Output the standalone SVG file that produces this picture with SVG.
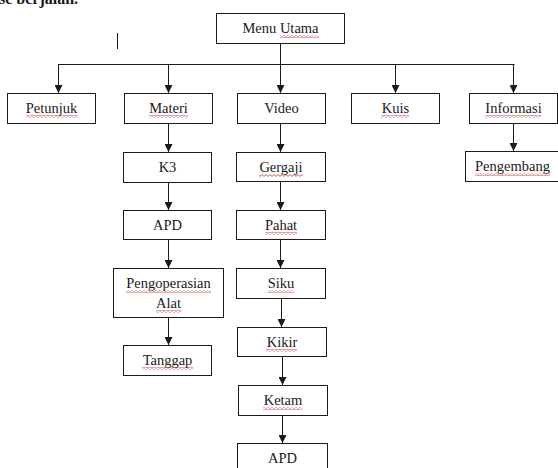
<svg xmlns="http://www.w3.org/2000/svg" width="558" height="468" viewBox="0 0 558 468">
<style>
.box{fill:#fff;stroke:#1a1a1a;stroke-width:1}
.t{font-family:'Liberation Serif','Times New Roman',serif;font-size:14.5px;fill:#1a1a1a;text-anchor:middle}
.hdr{font-family:'Liberation Serif','Times New Roman',serif;font-size:16px;font-weight:bold;fill:#1a1a1a}
.w{fill:url(#wave)}
.c{stroke:#1a1a1a;stroke-width:1;fill:none}
.a{stroke:#1a1a1a;stroke-width:1;fill:none;marker-end:url(#arr)}
</style>
<defs>
<marker id="arr" markerUnits="userSpaceOnUse" markerWidth="8" markerHeight="8" refX="8" refY="4" orient="auto">
<path d="M0,0 L8,4 L0,8 z" fill="#1a1a1a"/>
</marker>
<pattern id="wave" patternUnits="userSpaceOnUse" width="4" height="3">
<path d="M0,2.4 L2,0.6 L4,2.4" fill="none" stroke="#d23030" stroke-width="0.8"/>
</pattern>
</defs>
<rect width="558" height="468" fill="#fff"/>
<text class="hdr" x="-1" y="4">se berjalan.</text>
<line x1="117.5" y1="33" x2="117.5" y2="49" stroke="#1a1a1a" stroke-width="1"/>

<g id="connectors">
<path class="c" d="M280.5,43 V64.5 M58.5,64.5 H514.5"/>
<path class="a" d="M280.5,64 V93"/>
<path class="a" d="M58.5,64 V93"/>
<path class="a" d="M168.5,64 V93"/>
<path class="a" d="M395.5,64 V93"/>
<path class="a" d="M513.5,64 V93"/>
<path class="a" d="M513.5,123 V151"/>
<path class="a" d="M168.5,123 V152"/>
<path class="a" d="M168.5,182 V210"/>
<path class="a" d="M168.5,239 V268"/>
<path class="a" d="M168.5,317 V345"/>
<path class="a" d="M280.5,123 V152"/>
<path class="a" d="M280.5,181 V210"/>
<path class="a" d="M280.5,239 V268"/>
<path class="a" d="M281.5,298 V327"/>
<path class="a" d="M282.5,356 V385"/>
<path class="a" d="M282.5,415 V443"/>
</g>

<g id="menu-utama"><rect class="box" x="216.5" y="13.5" width="128" height="30"/><text class="t" x="280.5" y="33">Menu Utama</text><rect class="w" x="280" y="35" width="39" height="3"/></g>

<g id="petunjuk"><rect class="box" x="7.5" y="93.5" width="88" height="30"/><text class="t" x="51.5" y="113">Petunjuk</text><rect class="w" x="26" y="115" width="52" height="3"/></g>
<g id="materi"><rect class="box" x="124.5" y="93.5" width="88" height="30"/><text class="t" x="168.5" y="113">Materi</text><rect class="w" x="149" y="115" width="39" height="3"/></g>
<g id="video"><rect class="box" x="237.5" y="93.5" width="88" height="30"/><text class="t" x="281.5" y="113">Video</text></g>
<g id="kuis"><rect class="box" x="351.5" y="93.5" width="88" height="30"/><text class="t" x="395.5" y="113">Kuis</text><rect class="w" x="381" y="115" width="28" height="3"/></g>
<g id="informasi"><rect class="box" x="469.5" y="93.5" width="88" height="30"/><text class="t" x="513.5" y="113">Informasi</text><rect class="w" x="485" y="115" width="56" height="3"/></g>
<g id="pengembang"><rect class="box" x="465.5" y="151.5" width="95" height="30"/><text class="t" x="512.5" y="171">Pengembang</text><rect class="w" x="475" y="173" width="75" height="3"/></g>

<g id="k3"><rect class="box" x="123.5" y="152.5" width="88" height="30"/><text class="t" x="167.5" y="172">K3</text></g>
<g id="apd-materi"><rect class="box" x="123.5" y="210.5" width="88" height="29"/><text class="t" x="167.5" y="230">APD</text></g>
<g id="pengoperasian-alat"><rect class="box" x="113.5" y="268.5" width="110" height="49"/><text class="t" x="168.5" y="288">Pengoperasian</text><rect class="w" x="126" y="290" width="85" height="3"/><text class="t" x="168.5" y="308">Alat</text><rect class="w" x="156" y="310" width="25" height="3"/></g>
<g id="tanggap"><rect class="box" x="123.5" y="345.5" width="88" height="30"/><text class="t" x="167.5" y="365">Tanggap</text><rect class="w" x="142" y="367" width="51" height="3"/></g>

<g id="gergaji"><rect class="box" x="236.5" y="152.5" width="89" height="29"/><text class="t" x="281" y="172">Gergaji</text><rect class="w" x="259" y="174" width="44" height="3"/></g>
<g id="pahat"><rect class="box" x="236.5" y="210.5" width="89" height="29"/><text class="t" x="281" y="230">Pahat</text><rect class="w" x="265" y="232" width="32" height="3"/></g>
<g id="siku"><rect class="box" x="236.5" y="268.5" width="89" height="30"/><text class="t" x="281" y="288">Siku</text><rect class="w" x="268" y="290" width="26" height="3"/></g>
<g id="kikir"><rect class="box" x="237.5" y="327.5" width="89" height="29"/><text class="t" x="282" y="347">Kikir</text><rect class="w" x="266" y="349" width="31" height="3"/></g>
<g id="ketam"><rect class="box" x="238.5" y="385.5" width="89" height="30"/><text class="t" x="283" y="405">Ketam</text><rect class="w" x="263" y="407" width="39" height="3"/></g>
<g id="apd-video"><rect class="box" x="237.5" y="443.5" width="90" height="30"/><text class="t" x="282.5" y="463">APD</text></g>
</svg>
